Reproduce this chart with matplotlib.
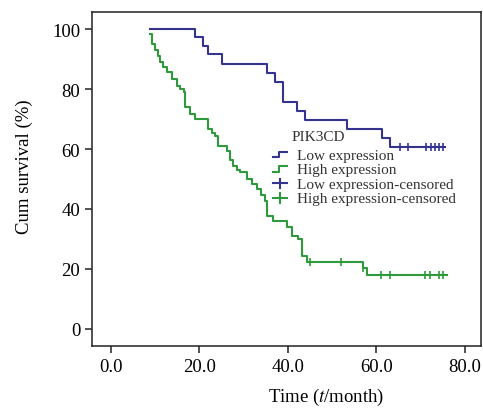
import numpy as np
import matplotlib
matplotlib.use('Agg')
import matplotlib.pyplot as plt
from matplotlib.lines import Line2D
from matplotlib.legend_handler import HandlerBase

plt.rcParams['font.family'] = ['Liberation Serif', 'DejaVu Serif']
plt.rcParams['mathtext.fontset'] = 'stix'

# Kaplan-Meier curves (time in months, survival in %)
low_t = [8.8, 19.0, 20.9, 22.0, 25.0, 35.2, 37.1, 39.0, 42.0, 43.9, 53.3, 61.2, 63.1, 75.6]
low_s = [100, 97.2, 94.4, 91.7, 88.4, 85.3, 82.2, 75.6, 72.8, 69.7, 66.7, 63.7, 60.8, 60.8]
low_cens = [65.4, 67.1, 71.3, 72.3, 73.3, 74.3, 75.2]

high_t = [8.8, 9.3, 10.0, 10.6, 11.1, 11.8, 12.6, 13.7, 14.9, 15.6, 16.4, 16.7, 17.9, 19.0,
          22.0, 22.8, 23.5, 24.3, 26.2, 26.9, 27.7, 28.4, 29.2, 30.7, 31.8, 33.0, 34.0, 34.8,
          35.2, 36.7, 39.7, 40.9, 42.4, 43.1, 44.3, 56.9, 57.8, 75.9]
high_s = [98.3, 95, 93, 91, 88.9, 87.2, 85.6, 83.3, 81.1, 80, 78.9, 73.9, 71.7, 70,
          66.7, 65.5, 64.4, 61.1, 59.4, 56.5, 54.4, 53, 52.2, 50, 48.3, 46.7, 44.5, 42.8,
          37.8, 36.1, 33.9, 31.1, 30, 24.4, 22.4, 20.2, 18.0, 18.0]
high_cens = [45.0, 52.0, 56.9, 61.0, 63.1, 71.0, 72.2, 74.3, 75.2]

xticks = [0, 20, 40, 60, 80]
yticks = [0, 20, 40, 60, 80, 100]

c_low = '#34348f'
c_high = '#2f9a3c'


def level_at(ts, ss, tc):
    # value of the step function at censor times
    idx = np.searchsorted(ts, tc, side='right') - 1
    return np.asarray(ss)[idx]


class StepHandler(HandlerBase):
    def create_artists(self, legend, orig, xd, yd, w, h, fs, trans):
        xs = np.array([0, 0.45, 0.45, 1.0]) * w - xd
        ys = np.array([0.15, 0.15, 0.65, 0.65]) * h - yd
        ln = Line2D(xs, ys, color=orig.get_color(), lw=orig.get_linewidth())
        ln.set_transform(trans)
        return [ln]


class CrossHandler(HandlerBase):
    def create_artists(self, legend, orig, xd, yd, w, h, fs, trans):
        ln = Line2D([-xd, w - xd], [0.4 * h - yd] * 2, color=orig.get_color(), lw=orig.get_linewidth())
        vt = Line2D([0.5 * w - xd] * 2, [-0.05 * h - yd, 0.85 * h - yd], color=orig.get_color(), lw=orig.get_linewidth())
        ln.set_transform(trans)
        vt.set_transform(trans)
        return [ln, vt]


fig = plt.figure(figsize=(4.83, 4.10), dpi=100)
ax = fig.add_axes([92 / 483, 1 - 347 / 410, 389 / 483, 334 / 410])

lw = 1.5
ax.step(low_t, low_s, where='post', color=c_low, lw=lw)
ax.step(high_t, high_s, where='post', color=c_high, lw=lw)
ax.plot(low_cens, level_at(low_t, low_s, low_cens), ls='none', marker='|', ms=6, mew=1.2, color=c_low)
ax.plot(high_cens, level_at(high_t, high_s, high_cens), ls='none', marker='|', ms=6, mew=1.2, color=c_high)

ax.set_xlim(-4.3, 83.7)
ax.set_ylim(-5.67, 105.67)
ax.set_xticks(xticks)
ax.set_xticklabels(['%.1f' % v for v in xticks])
ax.set_yticks(yticks)
ax.tick_params(labelsize=13.5, length=5, width=1.1, direction='out', pad=3.5, color='#222222')
for s in ax.spines.values():
    s.set_linewidth(1.1)
    s.set_color('#222222')

ax.set_ylabel('Cum survival (%)', fontsize=13.5)
ax.yaxis.set_label_coords(-0.151, 0.539)
ax.set_xlabel('Time ($\\mathit{t}$/month)', fontsize=13.5)
ax.xaxis.set_label_coords((326 - 92) / 389, -0.118)

h1 = Line2D([], [], color=c_low, lw=1.5)
h2 = Line2D([], [], color=c_high, lw=1.5)
h3 = Line2D([], [], color=c_low, lw=1.5)
h4 = Line2D([], [], color=c_high, lw=1.5)
leg = ax.legend([h1, h2, h3, h4],
                ['Low expression', 'High expression', 'Low expression-censored', 'High expression-censored'],
                handler_map={h1: StepHandler(), h2: StepHandler(), h3: CrossHandler(), h4: CrossHandler()},
                loc='upper left', bbox_to_anchor=((273 - 92) / 389, (347 - 149) / 334),
                frameon=False, fontsize=11, handlelength=0.9, handletextpad=0.7,
                labelspacing=0.05, borderpad=0, borderaxespad=0)
for t in leg.get_texts():
    t.set_color('#333333')
ax.text((292 - 92) / 389, (347 - 138) / 334, 'PIK3CD', transform=ax.transAxes,
        fontsize=11, va='center', ha='left', color='#333333')

fig.savefig('out.png', dpi=100)
